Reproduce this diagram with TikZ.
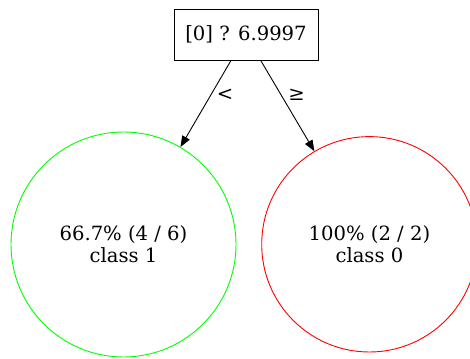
\documentclass[tikz,border=0pt]{standalone}
\usepackage{fontspec}
\setmainfont{DejaVu Serif}
\usetikzlibrary{arrows.meta,calc}
\definecolor{leafgreen}{RGB}{0,255,0}
\definecolor{leafred}{RGB}{255,0,0}
\begin{document}
\begin{tikzpicture}[x=1pt,y=1pt,
  every node/.style={font=\fontsize{19.6}{22}\selectfont},
  splitbox/.style={draw,line width=0.9pt,minimum width=144pt,minimum height=51pt,inner sep=0pt},
  leaf/.style={draw,circle,line width=0.9pt,inner sep=0pt,align=center},
  edge/.style={line width=0.9pt,-{Triangle[length=11pt,width=8.5pt]}},
  elabel/.style={font=\fontsize{19.6}{22}\selectfont}]
\useasboundingbox (0,0) rectangle (470,358);
\node[splitbox] (root) at (246,323.5) {[0] ? 6.9997};
\node[leaf,leafgreen,minimum size=225pt,text=black] (L) at (123.5,113.5) {66.7\% (4 / 6)\\class 1};
\node[leaf,leafred,minimum size=215.4pt,text=black] (R) at (369.4,113.7) {100\% (2 / 2)\\class 0};
\draw[edge] ($(root.south)+(-15,0)$) -- (L);
\draw[edge] ($(root.south)+(14.7,0)$) -- (R);
\node[elabel] (lt) at (225,263) {<};
\node[elabel] (ge) at (296.5,263) {≥};
\end{tikzpicture}
\end{document}
